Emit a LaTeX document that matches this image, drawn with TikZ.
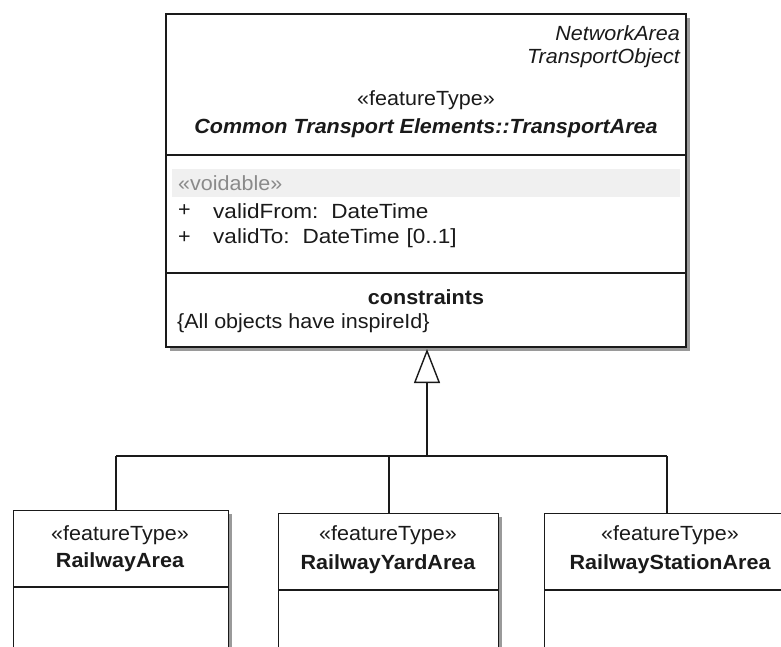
\documentclass[tikz,border=0pt]{standalone}
\usepackage{fontspec}
\setmainfont{Liberation Sans}[FakeStretch=1.05]
\newfontfamily\attrfont{Liberation Sans}[FakeStretch=1.1]
\usetikzlibrary{arrows.meta}
\definecolor{ink}{HTML}{1A1A1A}
\definecolor{shade}{HTML}{9A9A9A}
\definecolor{band}{HTML}{F0F0F0}
\definecolor{stereo}{HTML}{8A8A8A}
\newcommand{\lblsize}{\fontsize{20.5}{24}\selectfont}
\newcommand{\attrgap}{\hspace{13pt}}
\tikzset{
  classbox/.style={draw=ink, line width=1.4pt, fill=white, inner sep=0pt},
  shadowbox/.style={fill=shade, draw=none},
  lbl/.style={inner sep=0pt, text=ink, font=\lblsize},
  attr/.style={lbl, anchor=west, font=\lblsize\attrfont},
  gen/.style={draw=ink, line width=1.2pt},
  stem/.style={draw=ink, line width=2pt}
}
\begin{document}
\begin{tikzpicture}[x=1pt, y=-1pt]
\useasboundingbox (0,0) rectangle (781,646);
\clip (0,0) rectangle (781,646);
\fill[white] (0,0) rectangle (781,646);

% ---- TransportArea (parent class) ----
\fill[shadowbox] (170,18) rectangle (690,351);
\node[classbox, minimum width=520pt, minimum height=333pt] (parent) at (426,180.5) {};
\coordinate (d1l) at (166,155); \coordinate (d1r) at (686,155);
\coordinate (d2l) at (166,273); \coordinate (d2r) at (686,273);
\draw[ink, line width=1.4pt] (d1l) -- (d1r);
\draw[ink, line width=1.4pt] (d2l) -- (d2r);

\node[lbl, anchor=east, font=\lblsize\itshape] (na) at (680,33) {NetworkArea};
\node[lbl, anchor=east, font=\lblsize\itshape] (to) at (680,58) {TransportObject};
\node[lbl] (pst) at (426,100) {«featureType»};
\node[lbl, font=\lblsize\bfseries\itshape] (pname) at (426,128) {Common Transport Elements::TransportArea};

\fill[band] (172,169) rectangle (680,197);
\node[lbl, anchor=west, text=stereo] (void) at (178,183) {«voidable»};
\node[lbl, anchor=west] (p1) at (178,211) {+};
\node[attr] (a1) at (213,211) {validFrom:\attrgap DateTime};
\node[lbl, anchor=west] (p2) at (178,238) {+};
\node[attr] (a2) at (213,238) {validTo:\attrgap DateTime\hspace{7pt}[0..1]};

\node[lbl, font=\lblsize\bfseries] (cst) at (426,297) {constraints};
\node[lbl, anchor=west] (c1) at (177,323) {\{All objects have inspireId\}};

% ---- child classes ----
\fill[shadowbox] (17,514) rectangle (232,660);
\node[classbox, minimum width=215pt, minimum height=160pt, anchor=north west] (ra) at (13,510) {};
\draw[ink, line width=1.4pt] (13,587) -- (228,587);
\node[lbl] (rast) at (120,535) {«featureType»};
\node[lbl, font=\lblsize\bfseries] (ran) at (120,562) {RailwayArea};

\fill[shadowbox] (282,517) rectangle (502,660);
\node[classbox, minimum width=220pt, minimum height=160pt, anchor=north west] (rya) at (278,513) {};
\draw[ink, line width=1.4pt] (278,590) -- (498,590);
\node[lbl] (ryast) at (388,535) {«featureType»};
\node[lbl, font=\lblsize\bfseries] (ryan) at (388,564) {RailwayYardArea};

\fill[shadowbox] (549,517) rectangle (800,660);
\node[classbox, minimum width=252pt, minimum height=160pt, anchor=north west] (rsa) at (544,513) {};
\draw[ink, line width=1.4pt] (544,590) -- (800,590);
\node[lbl] (rsast) at (670,535) {«featureType»};
\node[lbl, font=\lblsize\bfseries] (rsan) at (670,564) {RailwayStationArea};

% ---- generalization tree ----
\coordinate (hub) at (427,456);
\coordinate (hl) at (116,456);
\coordinate (hr) at (667,456);
\coordinate (hm) at (389,456);
\draw[gen] (hl) -- (hr);
\draw[gen] (hl) -- (hl |- ra.north);
\draw[gen] (hm) -- (hm |- rya.north);
\draw[gen] (hr) -- (hr |- rsa.north);
\draw[stem, -{Triangle[open, length=34pt, width=26pt, line width=1.4pt]}] (hub) -- (427,349);
\end{tikzpicture}
\end{document}
